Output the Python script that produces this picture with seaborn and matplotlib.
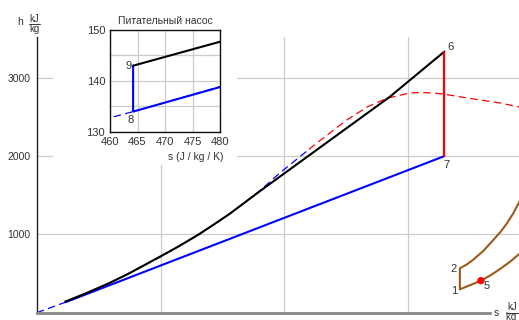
import numpy as np
import pandas as pd
import matplotlib
matplotlib.use("Agg")
import matplotlib.pyplot as plt
from matplotlib.patches import Rectangle
from matplotlib.lines import Line2D
import seaborn as sns

# ---------------- data (s in kJ/kg/K, h in kJ/kg) ----------------
# heating line 9 -> 6 (black)
black_s = [0.4642, 0.480, 0.80, 1.18, 1.50, 1.99, 2.30, 2.61, 2.85, 3.12, 3.35, 3.61,
           3.95, 4.30, 5.71, 6.59]
black_h = [143.0, 147.7, 250, 381, 505, 715, 850, 996, 1120, 1264, 1400, 1554,
           1749, 1950, 2759, 3335]
# condenser 7 -> 8 and pump 8 -> 9 (blue)
blue_s = [6.59, 0.4642, 0.4642]
blue_h = [2000, 134.0, 143.0]
# turbine 6 -> 7 (red)
turb_s = [6.59, 6.59]
turb_h = [3335, 2000]
# saturated liquid line (blue dashed)
liq_s = [0.0, 0.4642, 0.505, 1.18, 1.99, 2.61, 3.12, 3.61, 3.93, 4.40]
liq_h = [0.0, 134.0, 146.6, 378, 710, 992, 1262, 1560, 1785, 2086]
# saturated vapour line (red dashed)
vap_s = [4.40, 4.53, 5.01, 5.34, 5.66, 6.03, 6.20, 6.41, 6.57, 6.96, 7.49, 7.80, 7.95]
vap_h = [2086, 2168, 2461, 2627, 2738, 2806, 2812, 2806, 2793, 2742, 2678, 2627, 2605]
# gas cycle (brown)
gas_up_s = [6.84, 6.84, 6.95, 7.05, 7.22, 7.38, 7.50, 7.60, 7.70, 7.80, 7.90]
gas_up_h = [299, 567, 615, 673, 790, 928, 1035, 1140, 1265, 1414, 1570]
gas_lo_s = [6.84, 7.00, 7.18, 7.33, 7.49, 7.65, 7.80, 7.90]
gas_lo_h = [299, 350, 409, 475, 558, 650, 750, 830]
pt5_s, pt5_h = [7.18], [409]

labels_main = {"6": (6.59, 3335, 6, 5), "7": (6.59, 2000, 2, -9),
               "2": (6.84, 567, -6, -1), "1": (6.84, 299, -6, -2),
               "5": (7.18, 409, 6, -5)}
labels_inset = {"9": (464.2, 143.0, -5, 0), "8": (464.2, 134.0, -2, -8)}

y_ticks = [1000, 2000, 3000]
inset_xticks = [460, 465, 470, 475, 480]
inset_yticks = [130, 140, 150]

# ---------------- style ----------------
sns.set_theme(style="white")
plt.rcParams["font.family"] = ["Liberation Sans", "DejaVu Sans"]
FS = 7.5
TXT = "#333333"

W, H = 519, 320
fig = plt.figure(figsize=(W / 100, H / 100), dpi=100)
fig.patch.set_facecolor("white")


def fx(px):
    return px / W


def fy(py):
    return 1 - py / H


# ---------------- main axes ----------------
ax = fig.add_axes([fx(36.8), fy(312.7), (W - 36.8) / W, (312.7 - 37) / H])
ax.set_facecolor("white")
ax.set_xlim(0, 7.796)
ax.set_ylim(0, 3521)
ax.set_xticks([2, 4, 6])
ax.set_yticks(y_ticks)
ax.set_yticklabels([str(v) for v in y_ticks])
ax.tick_params(axis="both", length=0, labelsize=FS, colors=TXT, pad=4.5)
ax.tick_params(axis="x", labelbottom=False)
ax.grid(True, color="#cccccc", lw=0.9)
for sp in ["top", "right"]:
    ax.spines[sp].set_visible(False)
ax.spines["left"].set_color("#222222")
ax.spines["left"].set_linewidth(1.0)
ax.spines["bottom"].set_color("#888888")
ax.spines["bottom"].set_linewidth(2.0)
ax.spines["bottom"].set_bounds(0, 7.33)

dash = (0, (6, 3.5))


def line(a, xs, ys, color, lw, ls="-", z=3, scale=1.0):
    df = pd.DataFrame({"x": np.asarray(xs) * scale, "y": ys})
    sns.lineplot(data=df, x="x", y="y", ax=a, sort=False, estimator=None,
                 color=color, lw=lw, linestyle=ls, zorder=z)


line(ax, liq_s, liq_h, "#0000ff", 0.9, dash, z=2)
line(ax, vap_s, vap_h, "#ff0000", 0.9, dash, z=2)
line(ax, blue_s, blue_h, "#0000ff", 1.5, z=3)
line(ax, black_s, black_h, "#000000", 1.5, z=4)
line(ax, turb_s, turb_h, "#ff0000", 1.6, z=4)
line(ax, gas_up_s, gas_up_h, "#9b5a1a", 1.5, z=3)
line(ax, gas_lo_s, gas_lo_h, "#9b5a1a", 1.5, z=3)
sns.scatterplot(x=pt5_s, y=pt5_h, ax=ax, color="#ff0000", s=28,
                edgecolor="none", zorder=6)
ax.set_xlabel("")
ax.set_ylabel("")

for t, (xs, ys, dx, dy) in labels_main.items():
    ax.annotate(t, (xs, ys), xytext=(dx, dy), textcoords="offset pixels",
                ha="center", va="center", fontsize=FS + 0.5, color=TXT, zorder=7)

# axis captions
fig.text(fx(20.5), fy(22), "h", fontsize=FS, color=TXT, ha="center", va="center")
fig.text(fx(34.5), fy(19), "kJ", fontsize=FS - 0.5, color=TXT, ha="center", va="center")
fig.text(fx(34.5), fy(29), "kg", fontsize=FS - 0.5, color=TXT, ha="center", va="center")
fig.add_artist(Line2D([fx(29.3), fx(40)], [fy(23.5), fy(23.5)], color=TXT, lw=0.7,
                      transform=fig.transFigure))
fig.text(fx(496.5), fy(312.5), "s", fontsize=FS, color=TXT, ha="center", va="center")
fig.text(fx(507), fy(306.5), "kJ", fontsize=FS - 0.5, color=TXT, ha="left", va="center")
fig.text(fx(506), fy(317.5), "kg K", fontsize=FS - 0.5, color=TXT, ha="left", va="center")
fig.add_artist(Line2D([fx(506), fx(519)], [fy(312.5), fy(312.5)], color=TXT, lw=0.7,
                      transform=fig.transFigure))

# white backing for inset
fig.add_artist(Rectangle((fx(53), fy(165)), 184 / W, 158 / H, transform=fig.transFigure,
                         facecolor="white", edgecolor="none", zorder=1))

# ---------------- inset ----------------
ax2 = fig.add_axes([fx(110), fy(132), 110 / W, 102 / H], zorder=2)
ax2.set_facecolor("white")
ax2.set_xlim(460, 480)
ax2.set_ylim(130, 150)
ax2.set_xticks(inset_xticks)
ax2.set_yticks(inset_yticks)
ax2.set_yticks([135, 145], minor=True)
ax2.tick_params(axis="both", which="both", length=0, labelsize=FS + 0.5, colors=TXT, pad=3.5)
ax2.grid(True, which="both", color="#cccccc", lw=0.9)
for sp in ax2.spines.values():
    sp.set_color("#111111")
    sp.set_linewidth(1.0)

line(ax2, liq_s, liq_h, "#0000ff", 0.9, dash, z=2, scale=1000)
line(ax2, blue_s, blue_h, "#0000ff", 1.5, z=3, scale=1000)
line(ax2, black_s, black_h, "#000000", 1.5, z=4, scale=1000)
ax2.set_xlabel("")
ax2.set_ylabel("")
ax2.set_title("Питательный насос", fontsize=FS, color=TXT, pad=4.5)
ax2.text(1.03, -0.25, "s (J / kg / K)", transform=ax2.transAxes, ha="right", va="center",
         fontsize=FS, color=TXT)
for t, (xs, ys, dx, dy) in labels_inset.items():
    ax2.annotate(t, (xs, ys), xytext=(dx, dy), textcoords="offset pixels",
                 ha="center", va="center", fontsize=FS + 0.5, color=TXT, zorder=7)

fig.savefig("out.png", dpi=100, facecolor="white")
